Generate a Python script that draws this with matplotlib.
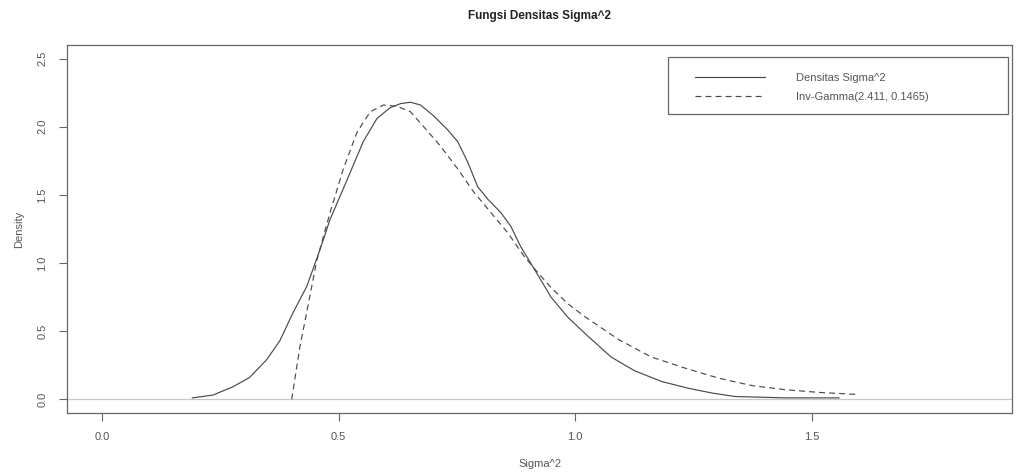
import numpy as np
import matplotlib.pyplot as plt
from matplotlib.patches import Rectangle

plt.rcParams['font.family'] = ['Liberation Sans', 'DejaVu Sans']

# density estimate
kde_x = [0.191, 0.234, 0.276, 0.312, 0.348, 0.376, 0.403, 0.433, 0.461, 0.482,
         0.518, 0.552, 0.581, 0.609, 0.631, 0.652, 0.673, 0.701, 0.730, 0.752,
         0.773, 0.794, 0.815, 0.843, 0.864, 0.885, 0.913, 0.949, 0.985, 1.028,
         1.076, 1.125, 1.183, 1.240, 1.290, 1.338, 1.444, 1.558]
kde_y = [0.01, 0.03, 0.09, 0.16, 0.29, 0.43, 0.63, 0.83, 1.10, 1.32,
         1.61, 1.89, 2.06, 2.14, 2.17, 2.18, 2.16, 2.08, 1.98, 1.89,
         1.74, 1.56, 1.47, 1.37, 1.27, 1.12, 0.96, 0.75, 0.60, 0.46,
         0.31, 0.21, 0.13, 0.08, 0.045, 0.02, 0.01, 0.01]

# inverse gamma curve
ig_x = [0.401, 0.418, 0.439, 0.454, 0.482, 0.510, 0.539, 0.567, 0.595, 0.624,
        0.652, 0.680, 0.715, 0.752, 0.786, 0.822, 0.858, 0.892, 0.921, 0.949,
        0.985, 1.019, 1.091, 1.161, 1.231, 1.303, 1.374, 1.444, 1.516, 1.597]
ig_y = [0.0, 0.38, 0.75, 1.02, 1.37, 1.69, 1.96, 2.11, 2.16, 2.15,
        2.11, 2.00, 1.86, 1.69, 1.52, 1.37, 1.22, 1.05, 0.93, 0.82,
        0.70, 0.61, 0.44, 0.31, 0.23, 0.155, 0.10, 0.07, 0.05, 0.035]

xticks = [0.0, 0.5, 1.0, 1.5]
yticks = [0.0, 0.5, 1.0, 1.5, 2.0, 2.5]

txt = '#555555'
line_col = '#4a4a4a'

fig = plt.figure(figsize=(10.23, 4.74), dpi=100)
ax = fig.add_axes([0.0655, 0.129, 0.924, 0.776])

ax.axhline(0, color='#c8c8c8', lw=0.9)
l1, = ax.plot(kde_x, kde_y, color=line_col, lw=0.85)
l2, = ax.plot(ig_x, ig_y, color=line_col, lw=0.85, linestyle=(0, (5, 3.5)))

ax.set_xlim(-0.074, 1.924)
ax.set_ylim(-0.1, 2.6)
ax.set_xticks(xticks)
ax.set_xticklabels([f'{v:.1f}' for v in xticks])
ax.set_yticks(yticks)
ax.set_yticklabels([f'{v:.1f}' for v in yticks], rotation=90, va='center')
ax.tick_params(direction='out', length=6, width=0.8, colors='#666666',
               labelcolor=txt, labelsize=8, pad=8)
for s in ax.spines.values():
    s.set_color('#666666')
    s.set_linewidth(0.9)

ax.set_title('Fungsi Densitas Sigma^2', fontsize=8.5, fontweight='bold',
             color='#222222', pad=19)
ax.set_xlabel('Sigma^2', fontsize=8, color=txt, labelpad=12)
ax.set_ylabel('Density', fontsize=8, color=txt, labelpad=10)

# legend frame like R
ax.add_patch(Rectangle((0.636, 0.8125), 0.36, 0.155, transform=ax.transAxes,
                       fill=False, edgecolor='#666666', lw=0.9))
ax.legend([l1, l2], ['Densitas Sigma^2', 'Inv-Gamma(2.411, 0.1465)'],
          loc='upper left', bbox_to_anchor=(0.6646, 0.924), frameon=False,
          borderpad=0, borderaxespad=0, handlelength=6.3, handletextpad=2.8,
          labelspacing=0.82, fontsize=8, labelcolor=txt)

fig.savefig('out.png', dpi=100)
